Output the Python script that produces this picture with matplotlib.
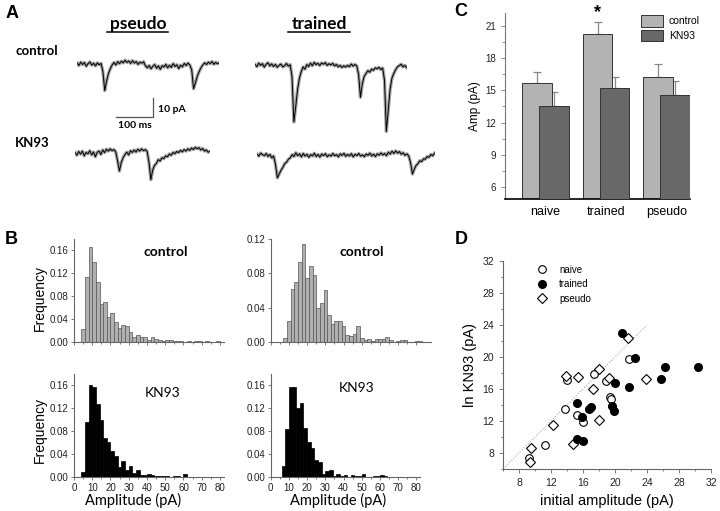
import numpy as np
import matplotlib.pyplot as plt
from matplotlib.lines import Line2D

W, H = 720, 511

# ---- panel A : example traces (pA, one sample every 5 ms) ----
trace_dt = 5
pseudo_ctrl = [0.5, -0.8, 1.0, -0.3, 0.8, -1.2, 0.2, 1.1, -0.6, 0.4, -1.0, 0.6, -0.4, 0.3,
               -4, -14, -9, -5, -2.5, -0.5, 0.8, -0.5, 1.2, 0.2, 1.5, 0.6, 2.0, 0.8, 1.6, 0.3,
               1.8, 0.5, 1.3, -0.2, 1.0, 0.4, 1.2, -1.0, -2.0, -0.8, -2.5, -1.2, -0.3, -2.2,
               -1.0, -2.8, -0.9, -1.6, -0.2, -2.0, -0.7, -1.8, 0.2, -1.3, -0.4, -2.4, -0.6,
               -1.5, 0.3, -0.8, 0.5, -0.6, -3.0, -13, -10, -6.5, -4.0, -2.0, -0.5, 0.6, -0.3,
               1.0, 0.2, 1.3, -0.2, 0.9, 0.1, 0.8]
trained_ctrl = [0.3, -0.9, 1.0, -0.2, 0.7, -1.1, 0.4, 1.2, -0.5, 0.6, -0.8, 0.3, -1.2, -0.2,
                0.5, -1.0, -0.4, 0.8, -0.6, 0.2, -6, -30, -22, -13, -7, -3.5, -1.0, -2.2, 0.2,
                -0.8, 1.0, -0.4, 1.4, 0.2, 0.9, -0.3, 1.1, 0.4, 1.3, -0.2, 0.7, 0.0, 0.9, -0.5,
                0.3, -1.0, -0.2, -1.3, -0.4, -1.1, -0.2, -0.9, 0.5, -0.6, 0.3, -0.4, -5, -17,
                -10, -6, -4.5, -3.0, -3.8, -2.2, -2.8, -1.5, -2.0, -1.2, -2.4, -1.6, -8, -35,
                -24, -13, -7, -4.5, -2.5, -1.0, -0.3, 0.4, -1.0, -0.2, -1.4]
pseudo_kn93 = [0.2, -1.2, 0.8, -0.6, 1.0, -1.5, 0.3, -0.4, 1.2, -1.0, 0.5, -2.0, 0.4, 1.0,
               -0.8, 1.6, 0.2, 2.0, 1.0, 2.2, 1.2, 1.8, 0.6, -4, -9.5, -5, -2.5, -0.8, 0.4,
               -1.0, 1.2, 0.3, 1.6, 0.5, 2.0, 1.0, 2.2, 1.2, 1.8, 0.8, -5, -14, -9, -6.5, -5.5,
               -3.5, -4.2, -2.5, -3.0, -1.5, -2.0, -0.5, -1.2, 0.3, -0.4, 0.8, 0.2, 1.4, 0.6,
               1.8, 1.0, 2.2, 1.4, 2.6, 1.8, 3.0, 2.2, 2.8, 1.6, 2.4, 1.0, 1.6, 0.4, 0.9]
trained_kn93 = [0.5, -0.6, 1.0, 0.2, -0.4, 0.8, -0.8, 0.3, -1.5, -0.5, -5, -12, -10, -8,
                -6.5, -4.5, -3.8, -2.2, -1.5, 0.2, -0.8, 1.2, -0.4, 0.6, -1.0, 0.8, -0.6, 0.4,
                -1.2, 0.2, -0.5, 0.9, -0.8, 0.3, -1.1, 0.5, -0.3, 0.7, -0.9, 0.1, -0.6, 0.8,
                -0.4, 0.2, -1.0, 0.6, -0.2, 0.9, -0.7, 0.3, -0.5, 0.7, -1.0, 0.4, -0.3, 0.8,
                -0.6, 0.1, -0.9, 0.5, -0.2, 1.0, -0.5, 0.4, -0.8, 0.6, -0.1, 1.1, 0.0, 0.8,
                -0.4, 1.5, 0.5, 2.0, 0.8, 2.2, 1.0, 1.8, 0.4, 1.2, -0.2, 0.6, -0.5, -4, -10,
                -7.5, -5.5, -4.5, -3.0, -3.5, -2.0, -2.2, -0.8, -1.2, 0.3, -0.4, 1.0]

# ---- panel B : amplitude histograms (2 pA bins) ----
bin_w = 2
tl_start = 4
tl_ctrl = [0.022, 0.113, 0.166, 0.140, 0.105, 0.066, 0.069, 0.043, 0.051, 0.034, 0.024,
           0.030, 0.027, 0.018, 0.009, 0.012, 0.008, 0.009, 0.004, 0.009, 0.006, 0.004,
           0.002, 0.004, 0.003, 0.001, 0.002, 0.002, 0.000, 0.002, 0.000, 0.001, 0.002,
           0.000, 0.001, 0.000, 0.000, 0.002, 0.000]
tr_start = 7
tr_ctrl = [0.005, 0.025, 0.062, 0.070, 0.093, 0.114, 0.074, 0.088, 0.078, 0.040, 0.046,
           0.061, 0.031, 0.021, 0.024, 0.024, 0.019, 0.0085, 0.007, 0.009, 0.019, 0.005,
           0.002, 0.0035, 0.0016, 0.004, 0.003, 0.003, 0.0055, 0.002, 0.0, 0.0015, 0.002,
           0.002, 0.0, 0.0, 0.001, 0.001]
bl_start = 4
bl_kn93 = [0.009, 0.096, 0.160, 0.157, 0.127, 0.099, 0.068, 0.061, 0.045, 0.037, 0.017,
           0.028, 0.012, 0.020, 0.007, 0.013, 0.0035, 0.0035, 0.006, 0.004, 0.0023, 0.0017,
           0.0017, 0.0017, 0.0, 0.0017, 0.003, 0.0, 0.005, 0.0, 0.0, 0.0, 0.0, 0.0, 0.0,
           0.0, 0.0, 0.001, 0.001]
br_start = 6
br_kn93 = [0.020, 0.083, 0.156, 0.157, 0.121, 0.128, 0.086, 0.061, 0.051, 0.030, 0.027,
           0.0064, 0.011, 0.013, 0.0023, 0.0064, 0.002, 0.004, 0.0, 0.0035, 0.0023, 0.0023,
           0.0064, 0.0, 0.0, 0.0017, 0.0017, 0.0035, 0.0017]

# ---- panel C : mean amplitudes ----
groups = ['naive', 'trained', 'pseudo']
amp_ctrl = [15.65, 20.25, 16.2]
err_ctrl = [1.1, 1.15, 1.25]
amp_kn93 = [13.57, 15.25, 14.54]
err_kn93 = [1.25, 0.95, 1.3]

# ---- panel D : initial amplitude vs amplitude in KN93 ----
naive_x = [9.2, 11.3, 13.8, 14.0, 15.3, 16.0, 17.4, 18.9, 19.4, 19.5, 21.7]
naive_y = [7.4, 9.0, 13.5, 17.1, 12.8, 11.9, 17.9, 17.0, 15.0, 14.7, 19.7]
trained_x = [20.9, 22.5, 30.4, 26.3, 25.8, 20.0, 21.7, 15.3, 15.9, 16.8, 17.0, 19.6, 19.9,
             15.2, 16.0]
trained_y = [23.0, 19.9, 18.8, 18.7, 17.3, 16.7, 16.3, 14.2, 12.5, 13.5, 13.7, 13.9, 13.3,
             9.8, 9.5]
pseudo_x = [21.6, 23.9, 18.0, 19.2, 17.3, 15.4, 13.9, 18.0, 12.3, 14.8, 9.5, 9.4]
pseudo_y = [22.4, 17.3, 18.5, 17.4, 16.0, 17.5, 17.6, 12.1, 11.5, 9.1, 8.6, 6.9]

plt.rcParams['font.family'] = ['Liberation Sans', 'DejaVu Sans']
cal = 'Lato'

fig = plt.figure(figsize=(W / 100, H / 100), dpi=100)


def box(l, t, r, b):
    return [l / W, 1 - b / H, (r - l) / W, (b - t) / H]


def ftext(x, y, s, **kw):
    fig.text(x / W, 1 - y / H, s, **kw)


def fline(xs, ys, **kw):
    fig.add_artist(Line2D([x / W for x in xs], [1 - y / H for y in ys], **kw))


# panel letters
for letter, x, y in [('A', 12, 14), ('B', 11, 240), ('C', 461, 11), ('D', 461, 239)]:
    ftext(x, y, letter, fontsize=13, fontweight='bold', ha='center', va='center')

# ---- A ----
px_per_sample = 1.85
px_per_pa = 1.9


def add_trace(x0, yb, vals):
    n = len(vals)
    ax = fig.add_axes(box(x0, yb - 40, x0 + (n - 1) * px_per_sample, yb + 80))
    t = np.arange(n) * trace_dt
    ax.plot(t, vals, color='#8c8c8c', lw=2.4, alpha=0.8)
    ax.plot(t, vals, color='black', lw=0.7)
    ax.set_xlim(0, (n - 1) * trace_dt)
    ax.set_ylim(-80 / px_per_pa, 40 / px_per_pa)
    ax.axis('off')


add_trace(77, 64, pseudo_ctrl)
add_trace(255, 65, trained_ctrl)
add_trace(75, 153, pseudo_kn93)
add_trace(257, 155, trained_kn93)

ftext(138, 24, 'pseudo', fontsize=12.5, fontweight='bold', family=cal, ha='center', va='center')
ftext(319, 24, 'trained', fontsize=12.5, fontweight='bold', family=cal, ha='center', va='center')
fline([107, 168], [32.5, 32.5], color='black', lw=1.1)
fline([288, 350], [32.5, 32.5], color='black', lw=1.1)
ftext(37, 51, 'control', fontsize=9.5, fontweight='bold', family=cal, ha='center', va='center')
ftext(32, 143, 'KN93', fontsize=9.5, fontweight='bold', family=cal, ha='center', va='center')

# scale bar
fline([116, 153.3, 153.3], [116.7, 116.7, 98.3], color='#555555', lw=0.9)
ftext(158, 109, '10 pA', fontsize=7.5, fontweight='bold', family=cal, va='center')
ftext(135, 125.5, '100 ms', fontsize=7.5, fontweight='bold', family=cal, ha='center', va='center')

# ---- B ----
spine_c = '#666666'


def style_hist(ax, ymax, ystep, xmax, show_x):
    ax.set_ylim(0, ymax)
    ax.set_xlim(0, xmax)
    ax.set_yticks(np.arange(0, ymax + 1e-9, ystep))
    ax.set_yticklabels(['%.2f' % v for v in np.arange(0, ymax + 1e-9, ystep)])
    ax.set_xticks(np.arange(0, 81, 10))
    ax.set_xticks(np.arange(0, 81, 5), minor=True)
    for s in ['top', 'right']:
        ax.spines[s].set_visible(False)
    for s in ['left', 'bottom']:
        ax.spines[s].set_color(spine_c)
        ax.spines[s].set_linewidth(0.8)
    ax.tick_params(which='both', direction='out', colors=spine_c, labelcolor='#222222',
                   labelsize=7, length=2.5, width=0.6, pad=1.5)
    ax.tick_params(which='minor', length=1.5)
    if not show_x:
        ax.set_xticklabels([])


def draw_hist(ax, start, vals, face, edge):
    edges = start + bin_w * np.arange(len(vals))
    ax.bar(edges, vals, width=bin_w, align='edge', color=face, edgecolor=edge, linewidth=0.5)


ax_tl = fig.add_axes(box(74, 238.5, 223.6, 342))
draw_hist(ax_tl, tl_start, tl_ctrl, '#b0b0b0', '#555555')
style_hist(ax_tl, 0.18, 0.04, 82, False)
ax_tl.set_yticks(np.arange(0, 0.17, 0.04))
ax_tl.set_yticklabels(['0.00', '0.04', '0.08', '0.12', '0.16'])
ax_tl.text(0.61, 0.87, 'control', transform=ax_tl.transAxes, fontsize=10, fontweight='bold',
           family=cal, ha='center', va='center')

ax_tr = fig.add_axes(box(270.7, 239, 431, 342))
draw_hist(ax_tr, tr_start, tr_ctrl, '#b0b0b0', '#555555')
style_hist(ax_tr, 0.12, 0.04, 88, False)
ax_tr.text(0.567, 0.87, 'control', transform=ax_tr.transAxes, fontsize=10, fontweight='bold',
           family=cal, ha='center', va='center')

ax_bl = fig.add_axes(box(74, 373.5, 223.6, 477.3))
draw_hist(ax_bl, bl_start, bl_kn93, 'black', 'black')
style_hist(ax_bl, 0.18, 0.04, 82, True)
ax_bl.set_yticks(np.arange(0, 0.17, 0.04))
ax_bl.set_yticklabels(['0.00', '0.04', '0.08', '0.12', '0.16'])
ax_bl.text(0.59, 0.81, 'KN93', transform=ax_bl.transAxes, fontsize=10, family=cal,
           ha='center', va='center')

ax_br = fig.add_axes(box(270.7, 373.5, 420, 477.3))
draw_hist(ax_br, br_start, br_kn93, 'black', 'black')
style_hist(ax_br, 0.18, 0.04, 82, True)
ax_br.set_yticks(np.arange(0, 0.17, 0.04))
ax_br.set_yticklabels(['0.00', '0.04', '0.08', '0.12', '0.16'])
ax_br.text(0.575, 0.857, 'KN93', transform=ax_br.transAxes, fontsize=10, family=cal,
           ha='center', va='center')

ftext(40, 298, 'Frequency', fontsize=10, rotation=90, ha='center', va='center')
ftext(40, 430, 'Frequency', fontsize=10, rotation=90, ha='center', va='center')
ftext(133, 500, 'Amplitude (pA)', fontsize=10.5, family=cal, ha='center', va='center')
ftext(338, 500, 'Amplitude (pA)', fontsize=10.5, family=cal, ha='center', va='center')

# ---- C ----
ax_c = fig.add_axes(box(505, 13, 690, 199))
xg = np.arange(len(groups))
bw = 0.49
off = 0.14
ax_c.bar(xg - off, amp_ctrl, width=bw, color='#b3b3b3', edgecolor='#333333', linewidth=0.7,
         label='control', zorder=2)
ax_c.errorbar(xg - off, amp_ctrl, yerr=[[0] * 3, err_ctrl], fmt='none', ecolor='#888888',
              elinewidth=0.9, capsize=3, capthick=0.9, zorder=1)
ax_c.bar(xg + off, amp_kn93, width=bw, color='#686868', edgecolor='#333333', linewidth=0.7,
         label='KN93', zorder=3)
ax_c.errorbar(xg + off, amp_kn93, yerr=[[0] * 3, err_kn93], fmt='none', ecolor='#888888',
              elinewidth=0.9, capsize=3, capthick=0.9, zorder=1)
ax_c.text(xg[1] - off, amp_ctrl[1] + err_ctrl[1] + 0.05, '*', fontsize=13, fontweight='bold',
          ha='center', va='bottom')
ax_c.set_xlim(-0.66, 2.38)
ax_c.set_ylim(4.88, 22.2)
ax_c.set_yticks([6, 9, 12, 15, 18, 21])
ax_c.set_yticks(np.arange(7.5, 22, 3), minor=True)
ax_c.set_xticks(xg)
ax_c.set_xticklabels(groups)
for s in ['top', 'right']:
    ax_c.spines[s].set_visible(False)
ax_c.spines['left'].set_color('#777777')
ax_c.spines['bottom'].set_linewidth(1.2)
ax_c.tick_params(axis='y', which='both', direction='out', colors='#777777', labelcolor='#222222',
                 labelsize=7, length=3, width=0.6)
ax_c.tick_params(axis='y', which='minor', length=2)
ax_c.tick_params(axis='x', length=0, labelsize=9, pad=5)
ax_c.set_ylabel('Amp (pA)', fontsize=8.5, labelpad=3)
ax_c.legend(loc='upper left', bbox_to_anchor=(0.71, 1.01), frameon=False, fontsize=7.5,
            handlelength=2.2, handleheight=1.3, handletextpad=0.5, labelspacing=0.3,
            borderaxespad=0)

# ---- D ----
ax_d = fig.add_axes(box(503, 261, 711, 469))
ax_d.plot([6, 24], [6, 24], color='#aaaaaa', lw=0.8, ls=':', zorder=1)
ax_d.plot(naive_x, naive_y, 'o', mfc='white', mec='black', mew=0.8, ms=5.5, ls='none',
          label='naive', zorder=2)
ax_d.plot(trained_x, trained_y, 'o', mfc='black', mec='black', ms=5.5, ls='none',
          label='trained', zorder=3)
ax_d.plot(pseudo_x, pseudo_y, 'D', mfc='white', mec='black', mew=0.8, ms=5, ls='none',
          label='pseudo', zorder=2)
ax_d.set_xlim(6, 32)
ax_d.set_ylim(6, 32)
ax_d.set_xticks(np.arange(8, 33, 4))
ax_d.set_yticks(np.arange(8, 33, 4))
ax_d.set_xticks(np.arange(6, 33, 2), minor=True)
ax_d.set_yticks(np.arange(6, 33, 2), minor=True)
for s in ['top', 'right']:
    ax_d.spines[s].set_visible(False)
for s in ['left', 'bottom']:
    ax_d.spines[s].set_color('#666666')
ax_d.tick_params(which='both', direction='out', colors='#666666', labelcolor='#222222',
                 labelsize=7.5, length=3, width=0.6)
ax_d.tick_params(which='minor', length=1.5)
ax_d.set_xlabel('initial amplitude (pA)', fontsize=10.5, labelpad=4)
ax_d.set_ylabel('ln KN93 (pA)', fontsize=10.5, labelpad=4)
ax_d.legend(loc='upper left', bbox_to_anchor=(0.12, 1.0), frameon=False, fontsize=7,
            handletextpad=0.8, labelspacing=0.45, borderaxespad=0)

fig.savefig('out.png', dpi=100)
